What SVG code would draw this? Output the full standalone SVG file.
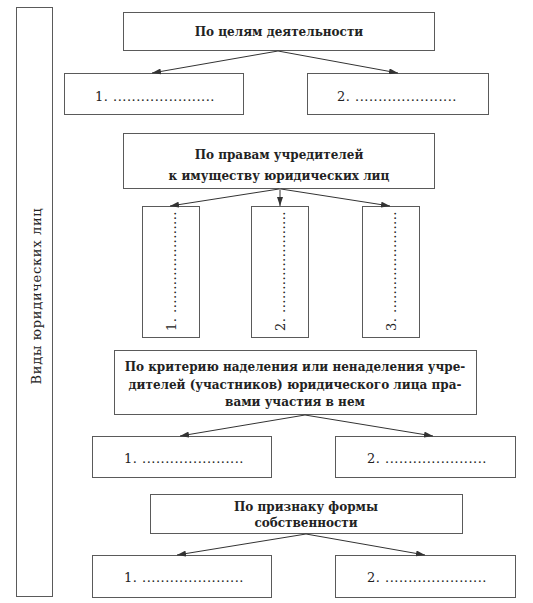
<svg xmlns="http://www.w3.org/2000/svg" width="533" height="603" viewBox="0 0 533 603">
<style>
.box{fill:#fff;stroke:#5a5a5a;stroke-width:1}
.h{font-family:"DejaVu Serif","Liberation Serif",serif;font-size:12px;font-weight:bold;fill:#222;text-anchor:middle}
.t{font-family:"DejaVu Serif","Liberation Serif",serif;font-size:13px;fill:#222;text-anchor:middle;letter-spacing:0.5px}
.v{font-family:"DejaVu Serif","Liberation Serif",serif;font-size:13px;fill:#222;text-anchor:middle;letter-spacing:0.5px}
.lbl{font-family:"DejaVu Serif","Liberation Serif",serif;font-size:13px;fill:#222;text-anchor:middle;letter-spacing:0.7px}
.c line{stroke:#333;stroke-width:1;marker-end:url(#ah)}
</style>
<defs>
<marker id="ah" markerWidth="9" markerHeight="6" refX="9" refY="3" orient="auto" markerUnits="userSpaceOnUse">
<path d="M0,0 L9,3 L0,6 Z" fill="#333"/>
</marker>
</defs>
<rect width="533" height="603" fill="#fff"/>
<g id="main">
<rect class="box" x="16.5" y="7.5" width="36" height="589"/>
<text class="lbl" transform="translate(41,296) rotate(-90)">Виды юридических лиц</text>
</g>
<g id="n1">
<rect class="box" x="123.5" y="12.5" width="311" height="38"/>
<text class="h" x="279" y="36">По целям деятельности</text>
</g>
<g id="n1a">
<rect class="box" x="64.5" y="73.5" width="179" height="41"/>
<text class="t" x="155" y="101">1. ......................</text>
</g>
<g id="n1b">
<rect class="box" x="307.5" y="73.5" width="181" height="41"/>
<text class="t" x="397" y="101">2. ......................</text>
</g>
<g id="n2">
<rect class="box" x="123.5" y="133.5" width="311" height="55"/>
<text class="h" x="279" y="159">По правам учредителей</text>
<text class="h" x="279" y="180">к имуществу юридических лиц</text>
</g>
<g id="n2a">
<rect class="box" x="142.5" y="206.5" width="57" height="131"/>
<text class="v" transform="translate(176,271) rotate(-90)">1. ......................</text>
</g>
<g id="n2b">
<rect class="box" x="251.5" y="206.5" width="57" height="131"/>
<text class="v" transform="translate(285,271) rotate(-90)">2. ......................</text>
</g>
<g id="n2c">
<rect class="box" x="362.5" y="206.5" width="57" height="131"/>
<text class="v" transform="translate(396,271) rotate(-90)">3. ......................</text>
</g>
<g id="n3">
<rect class="box" x="114.5" y="350.5" width="362" height="64"/>
<text class="h" x="295" y="371">По критерию наделения или ненаделения учре-</text>
<text class="h" x="295" y="389">дителей (участников) юридического лица пра-</text>
<text class="h" x="295" y="406">вами участия в нем</text>
</g>
<g id="n3a">
<rect class="box" x="92.5" y="436.5" width="179" height="41"/>
<text class="t" x="184" y="463">1. ......................</text>
</g>
<g id="n3b">
<rect class="box" x="335.5" y="436.5" width="180" height="41"/>
<text class="t" x="427" y="463">2. ......................</text>
</g>
<g id="n4">
<rect class="box" x="150.5" y="494.5" width="312" height="39"/>
<text class="h" x="306" y="511">По признаку формы</text>
<text class="h" x="306" y="527">собственности</text>
</g>
<g id="n4a">
<rect class="box" x="92.5" y="555.5" width="179" height="42"/>
<text class="t" x="184" y="582">1. ......................</text>
</g>
<g id="n4b">
<rect class="box" x="335.5" y="555.5" width="180" height="42"/>
<text class="t" x="427" y="582">2. ......................</text>
</g>
<g id="connectors" class="c">
<line x1="278" y1="51" x2="152" y2="73"/>
<line x1="278" y1="51" x2="398" y2="73"/>
<line x1="279" y1="189" x2="170" y2="206"/>
<line x1="280" y1="189" x2="280" y2="206"/>
<line x1="281" y1="189" x2="390" y2="206"/>
<line x1="305" y1="415" x2="180" y2="436"/>
<line x1="305" y1="415" x2="433" y2="436"/>
<line x1="306" y1="534" x2="177" y2="555"/>
<line x1="306" y1="534" x2="425" y2="555"/>
</g>
</svg>
